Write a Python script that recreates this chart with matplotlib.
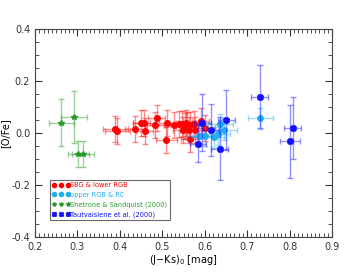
import numpy as np
import matplotlib
matplotlib.use('Agg')
import matplotlib.pyplot as plt
from matplotlib.ticker import MultipleLocator, FormatStrFormatter
from matplotlib.lines import Line2D

# SBG & lower RGB
red_x = [0.389, 0.394, 0.436, 0.450, 0.457, 0.458, 0.483, 0.487, 0.509, 0.511,
         0.527, 0.539, 0.547, 0.549, 0.553, 0.556, 0.558, 0.562, 0.566, 0.564,
         0.578, 0.590, 0.575, 0.600]
red_y = [0.015, 0.009, 0.015, 0.038, 0.038, 0.006, 0.030, 0.058, -0.026, 0.038,
         0.030, 0.035, 0.035, 0.013, 0.026, 0.038, 0.032, 0.013, 0.030, -0.022,
         0.013, 0.045, 0.035, 0.020]
red_xerr = [0.03, 0.03, 0.025, 0.02, 0.025, 0.02, 0.02, 0.02, 0.025, 0.02,
            0.02, 0.02, 0.02, 0.025, 0.02, 0.02, 0.025, 0.02, 0.02, 0.02,
            0.025, 0.02, 0.02, 0.025]
red_yerr = 0.05

# upper RGB & RC
cyan_x = [0.587, 0.600, 0.621, 0.637, 0.646, 0.731, 0.630]
cyan_y = [-0.010, -0.010, -0.017, 0.035, 0.013, 0.057, -0.005]
cyan_xerr = 0.03
cyan_yerr = 0.04

# Shetrone & Sandquist (2000)
green_x = [0.262, 0.292, 0.302, 0.313]
green_y = [0.040, 0.060, -0.080, -0.080]
green_xerr = [0.03, 0.03, 0.025, 0.025]
green_yerr = [0.09, 0.10, 0.05, 0.05]

# Tautvaisiene et al. (2000)
blue_x = [0.730, 0.807, 0.801, 0.594, 0.584, 0.614, 0.635, 0.651]
blue_y = [0.140, 0.019, -0.031, 0.040, -0.041, 0.010, -0.060, 0.049]
blue_xerr = [0.02, 0.02, 0.023, 0.02, 0.02, 0.02, 0.02, 0.02]
blue_yerr = [0.12, 0.12, 0.14, 0.11, 0.07, 0.10, 0.12, 0.115]

c_red, c_cyan, c_green, c_blue = 'red', '#1fb0f0', '#2a9a2a', '#1010ff'

fig = plt.figure(figsize=(3.47, 2.78), dpi=100)
ax = fig.add_axes([0.101, 0.147, 0.856, 0.749])

def plot_set(x, y, xe, ye, col, mk, ms):
    ax.errorbar(x, y, xerr=xe, yerr=ye, fmt='none', ecolor=col, alpha=0.45,
                elinewidth=1.0, capsize=2.5, capthick=1.0)
    ax.plot(x, y, mk, color=col, ms=ms, ls='none')

plot_set(green_x, green_y, green_xerr, green_yerr, c_green, '*', 4)
plot_set(red_x, red_y, red_xerr, red_yerr, c_red, 'o', 4)
plot_set(cyan_x, cyan_y, cyan_xerr, cyan_yerr, c_cyan, 'o', 4)
plot_set(blue_x, blue_y, blue_xerr, blue_yerr, c_blue, 'X', 4)

ax.set_xlim(0.2, 0.9)
ax.set_ylim(-0.4, 0.4)
ax.xaxis.set_major_locator(MultipleLocator(0.1))
ax.xaxis.set_minor_locator(MultipleLocator(0.01))
ax.yaxis.set_major_locator(MultipleLocator(0.2))
ax.yaxis.set_minor_locator(MultipleLocator(0.05))
ax.xaxis.set_major_formatter(FormatStrFormatter('%.1f'))
ax.yaxis.set_major_formatter(FormatStrFormatter('%.1f'))
ax.tick_params(which='both', direction='in', top=True, right=True,
               labelsize=7, colors='#333333')
ax.tick_params(which='major', length=5)
ax.tick_params(which='minor', length=3)
for s in ax.spines.values():
    s.set_color('#444444')
ax.set_xlabel('(J\u2212Ks)$_0$ [mag]', fontsize=7, labelpad=1)
ax.set_ylabel('[O/Fe]', fontsize=7, labelpad=1)

# legend: three markers per entry, text in the series colour
handles = [
    Line2D([], [], marker='o', color=c_red, ls='none', ms=3),
    Line2D([], [], marker='o', color=c_cyan, ls='none', ms=3),
    Line2D([], [], marker='*', color=c_green, ls='none', ms=3),
    Line2D([], [], marker='X', color=c_blue, ls='none', ms=3),
]
labels = ['SBG & lower RGB', 'upper RGB & RC', 'Shetrone & Sandquist (2000)',
          'Tautvaisiene et al. (2000)']
leg = ax.legend(handles, labels, loc='lower left', bbox_to_anchor=(0.05, 0.08),
                numpoints=3, fontsize=4.8, fancybox=False, handlelength=2.6,
                handletextpad=0.1, borderpad=0.35, labelspacing=0.55,
                borderaxespad=0)
leg.get_frame().set_edgecolor('#444444')
leg.get_frame().set_linewidth(0.8)
for t, c in zip(leg.get_texts(), [c_red, c_cyan, c_green, c_blue]):
    t.set_color(c)

fig.savefig('out.png', dpi=100)
